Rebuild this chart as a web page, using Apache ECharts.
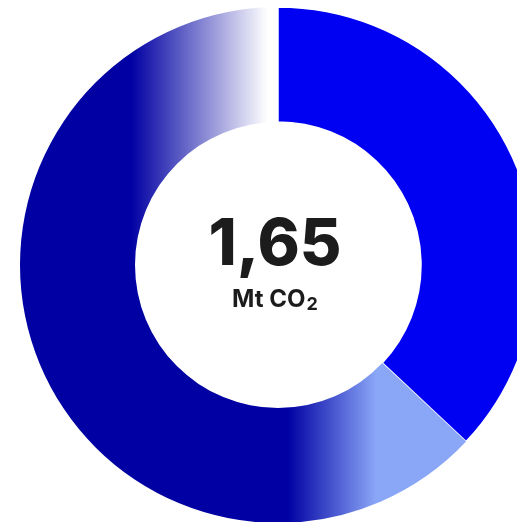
<!DOCTYPE html>
<html>
<head>
<meta charset="utf-8">
<script src="https://cdn.jsdelivr.net/npm/echarts@6/dist/echarts.min.js"></script>
<style>
html,body{margin:0;padding:0;background:#fff;}
#chart{width:517px;height:522px;}
</style>
</head>
<body>
<div id="chart"></div>
<script>
// Segment shares (percent of the ring, clockwise from 12 o'clock)
const categories = ['Segment A', 'Segment B', 'Segment C', 'Segment C (top)'];
const values = [37, 13, 25, 25];
const totalLabel = '1,65';
const unitMain = 'Mt CO';
const unitSub = '2';

const NAVY = '#0000a3';
const BLUE = '#0000f2';
const LIGHT = '#8aa6f7';

const itemStyles = [
  { color: BLUE, borderColor: '#ffffff', borderWidth: 1.5 },
  { color: { type: 'linear', x: 0, y: 0, x2: 1, y2: 0, colorStops: [
      { offset: 0, color: NAVY }, { offset: 0.05, color: NAVY },
      { offset: 0.52, color: LIGHT }, { offset: 1, color: LIGHT }] } },
  { color: NAVY },
  { color: { type: 'linear', x: 0, y: 0, x2: 1, y2: 0, colorStops: [
      { offset: 0, color: NAVY }, { offset: 0.43, color: NAVY },
      { offset: 0.96, color: '#ffffff' }, { offset: 1, color: '#ffffff' }] } }
];

const chart = echarts.init(document.getElementById('chart'));
chart.setOption({
  backgroundColor: '#ffffff',
  animation: false,
  series: [{
    type: 'pie',
    center: [278, 265],
    radius: [143, 258],
    startAngle: 90,
    clockwise: true,
    silent: true,
    label: { show: false },
    labelLine: { show: false },
    emphasis: { disabled: true },
    data: categories.map((c, i) => ({ name: c, value: values[i], itemStyle: itemStyles[i] }))
  }],
  graphic: [
    { type: 'text', x: 275, y: 246, style: { text: totalLabel, fill: '#1c1c1c',
      font: '800 64px Inter', textAlign: 'center', textVerticalAlign: 'middle' } },
    { type: 'text', x: 275, y: 300, style: {
      text: '{a|' + unitMain + '}{b|' + unitSub + '}',
      textAlign: 'center', textVerticalAlign: 'middle',
      rich: {
        a: { fontFamily: 'Inter', fontWeight: 700, fontSize: 24, lineHeight: 28, fill: '#1c1c1c', color: '#1c1c1c', verticalAlign: 'middle' },
        b: { fontFamily: 'Inter', fontWeight: 700, fontSize: 18, lineHeight: 14, fill: '#1c1c1c', color: '#1c1c1c', verticalAlign: 'bottom', padding: [0, 0, 0, 1] }
      } } }
  ]
});
</script>
</body>
</html>
